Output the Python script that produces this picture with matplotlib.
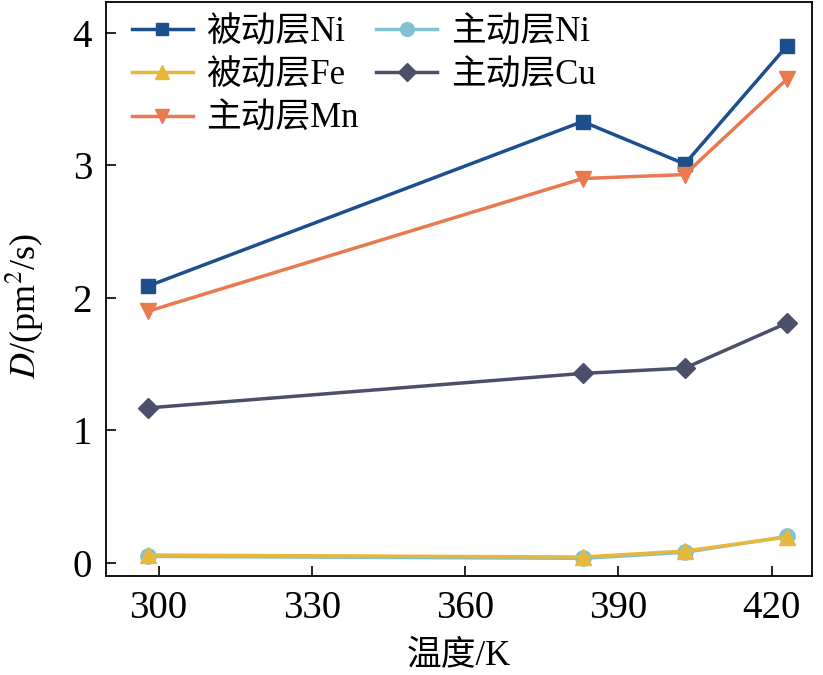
import numpy as np
import matplotlib
matplotlib.use("Agg")
import matplotlib.pyplot as plt

plt.rcParams['font.family'] = ['Liberation Serif', 'Noto Sans CJK SC']
plt.rcParams['mathtext.fontset'] = 'stix'

# temperature (K) and diffusion coefficients D (pm^2/s)
temp = [298, 383, 403, 423]
passive_ni = [2.09, 3.33, 3.01, 3.90]
passive_fe = [0.06, 0.045, 0.09, 0.195]
active_mn = [1.90, 2.90, 2.93, 3.65]
active_ni = [0.05, 0.035, 0.08, 0.20]
active_cu = [1.17, 1.43, 1.47, 1.81]

x_ticks = [300, 330, 360, 390, 420]
y_ticks = [0, 1, 2, 3, 4]

fig = plt.figure(figsize=(8.23, 6.75), dpi=100)
ax = fig.add_axes([0.1288, 0.1467, 0.8578, 0.850])

lw = 2.5
ms = 11
l_ani, = ax.plot(temp, active_ni, '-o', color='#80c2d3', lw=lw, ms=ms, label='主动层Ni')
l_pni, = ax.plot(temp, passive_ni, '-s', color='#1d4f8f', lw=lw, ms=ms - 1, label='被动层Ni')
l_mn, = ax.plot(temp, active_mn, '-v', color='#e9794e', lw=lw, ms=ms, label='主动层Mn')
l_cu, = ax.plot(temp, active_cu, '-D', color='#4b4f69', lw=lw, ms=ms - 1, label='主动层Cu')
l_fe, = ax.plot(temp, passive_fe, '-^', color='#e8b83b', lw=lw, ms=ms, label='被动层Fe')

ax.set_xlim(289.7, 427.9)
ax.set_ylim(-0.098, 4.23)
ax.set_xticks(x_ticks)
ax.set_yticks(y_ticks)
ax.tick_params(direction='in', length=7, width=1.2, labelsize=28, pad=10)
for s in ax.spines.values():
    s.set_linewidth(1.3)

ax.set_xlabel('温度/K', fontsize=25, labelpad=9)
ax.set_ylabel('$D$/(pm$^2$/s)', fontsize=26)
ax.yaxis.set_label_coords(-0.085, 0.47)

ax.legend([l_pni, l_fe, l_mn, l_ani, l_cu],
          ['被动层Ni', '被动层Fe', '主动层Mn', '主动层Ni', '主动层Cu'],
          ncol=2, loc='upper left', bbox_to_anchor=(0.017, 1.0),
          frameon=False, fontsize=25, markerscale=0.9,
          handlelength=1.75, columnspacing=0.5, labelspacing=0.3,
          borderaxespad=0, handletextpad=0.4)

fig.savefig('out.png', dpi=100)
